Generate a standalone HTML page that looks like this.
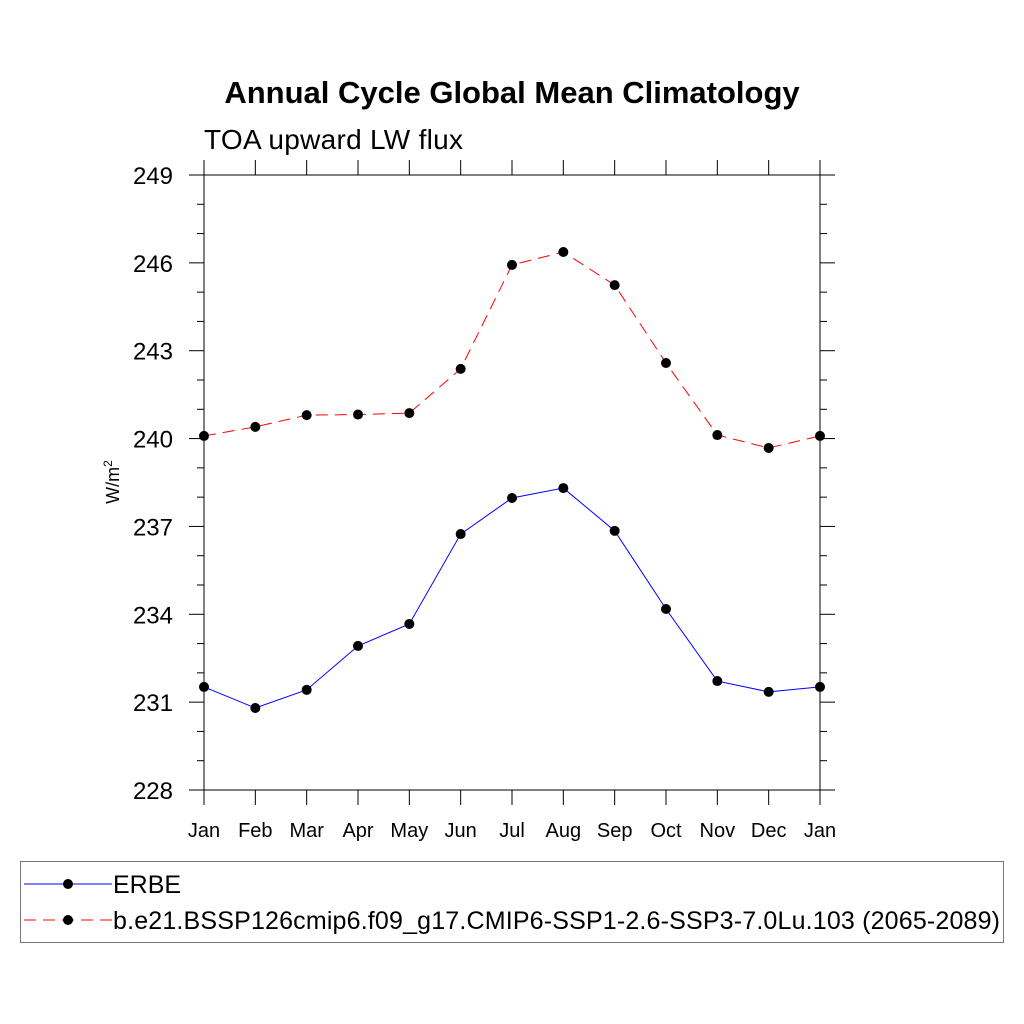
<!DOCTYPE html>
<html><head><meta charset="utf-8"><style>body{margin:0;background:#fff}svg{display:block}text{font-family:"Liberation Sans",sans-serif}</style></head>
<body>
<svg id="chart" width="1024" height="1024" xmlns="http://www.w3.org/2000/svg">
<text x="512" y="103" text-anchor="middle" font-size="31" font-weight="bold">Annual Cycle Global Mean Climatology</text>
<text x="204" y="149" font-size="28" textLength="259">TOA upward LW flux</text>
<text transform="translate(119,482) rotate(-90)" text-anchor="middle" font-size="18">W/m<tspan font-size="12" dy="-7">2</tspan></text>
<g id="axes"></g>
<g id="series"></g>
<g>
<rect x="20.5" y="861.5" width="983" height="81" fill="none" stroke="#777" stroke-width="1"/>
<line x1="24" y1="884" x2="112" y2="884" stroke="#00f" stroke-width="1"/>
<circle cx="68" cy="884" r="5" fill="#000"/>
<text x="113" y="893" font-size="25">ERBE</text>
<line x1="24" y1="920" x2="112" y2="920" stroke="#f00" stroke-width="1" stroke-dasharray="12,7"/>
<circle cx="68" cy="920" r="5" fill="#000"/>
<text x="113" y="929" font-size="25" textLength="887">b.e21.BSSP126cmip6.f09_g17.CMIP6-SSP1-2.6-SSP3-7.0Lu.103 (2065-2089)</text>
</g>
</svg>
<script>
const months=["Jan","Feb","Mar","Apr","May","Jun","Jul","Aug","Sep","Oct","Nov","Dec","Jan"];
const yTicks=[228,231,234,237,240,243,246,249];
const erbe=[231.52,230.8,231.42,232.92,233.67,236.74,237.97,238.31,236.85,234.18,231.72,231.35,231.52];
const model=[240.09,240.4,240.8,240.82,240.87,242.38,245.93,246.37,245.24,242.58,240.12,239.68,240.09];
const NS="http://www.w3.org/2000/svg";
const L=204,R=820,T=175,B=790,ymin=228,ymax=249;
const xs=i=>L+(R-L)*i/(months.length-1);
const ys=v=>B-(v-ymin)/(ymax-ymin)*(B-T);
function mk(tag,attrs,parent){const e=document.createElementNS(NS,tag);for(const k in attrs)e.setAttribute(k,attrs[k]);parent.appendChild(e);return e;}
const ax=document.getElementById('axes');
const frame=mk('rect',{x:L,y:T,width:R-L,height:B-T,fill:'none',stroke:'#000','stroke-width':1},ax);


months.forEach((m,i)=>{const x=xs(i);
mk('line',{x1:x,y1:B,x2:x,y2:B+15,stroke:'#000'},ax);
mk('line',{x1:x,y1:T,x2:x,y2:T-15,stroke:'#000'},ax);
const t=mk('text',{x:x,y:B+47,'text-anchor':'middle','font-size':20},ax);t.textContent=m;

});
for(let v=ymin;v<=ymax;v++){const y=ys(v);const maj=yTicks.includes(v);const len=maj?15:7;
mk('line',{x1:L-len,y1:y,x2:L,y2:y,stroke:'#000'},ax);
mk('line',{x1:R,y1:y,x2:R+len,y2:y,stroke:'#000'},ax);}
yTicks.forEach(v=>{const t=mk('text',{x:L-31,y:ys(v)+9,'text-anchor':'end','font-size':24},ax);t.textContent=v;

});
const sg=document.getElementById('series');
function draw(data,color,dash,name){
const p=mk('polyline',{points:data.map((v,i)=>xs(i)+','+ys(v)).join(' '),fill:'none',stroke:color,'stroke-width':1,'stroke-dasharray':dash},sg);


data.forEach((v,i)=>{const c=mk('circle',{cx:xs(i),cy:ys(v),r:5,fill:'#000'},sg);

});}
draw(erbe,'#00f','none','erbe');
draw(model,'#f00','12,7','model');
</script>
</body></html>
